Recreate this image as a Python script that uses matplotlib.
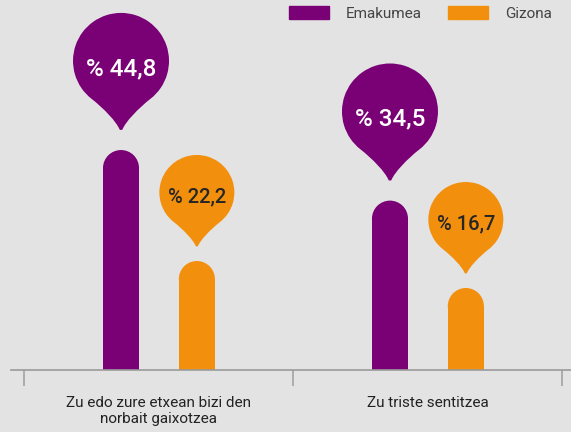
import numpy as np
import matplotlib
matplotlib.use("Agg")
import matplotlib.pyplot as plt
import matplotlib.patches as mpatches
import matplotlib.transforms as mtransforms
from matplotlib.path import Path

# data
categories = ["Zu edo zure etxean bizi den\nnorbait gaixotzea", "Zu triste sentitzea"]
series = ["Emakumea", "Gizona"]
emakumea = [44.8, 34.5]
gizona = [22.2, 16.7]

purple = "#7a0075"
orange = "#f2900e"
bg = "#e3e3e3"

plt.rcParams['font.family'] = ['Roboto', 'DejaVu Sans']

fig = plt.figure(figsize=(5.71, 4.32), dpi=100, facecolor=bg)
ax = fig.add_axes([11 / 571, 62 / 432, 560 / 571, 370 / 432])
ax.set_facecolor(bg)
ax.set_xlim(-0.550, 1.532)
ax.set_ylim(0, 370 / 4.91)

x = np.arange(len(categories))
off = 0.141
bar_w = 0.134

# pixel sizes for the rounded tops
px_x = ax.transData.transform((1, 0))[0] - ax.transData.transform((0, 0))[0]
px_y = ax.transData.transform((0, 1))[1] - ax.transData.transform((0, 0))[1]
r_px = bar_w * px_x / 2
cap_h = r_px / px_y


def balloon_path(R, k=1.44):
    # balloon centred on origin, tail tip at (0, -k*R), in pixels
    a = np.deg2rad(-52)
    ax_, ay_ = np.cos(a), np.sin(a)
    tx, ty = -ay_, ax_  # tangent going counter-clockwise
    c2 = (ax_ - 0.32 * tx, ay_ - 0.32 * ty)
    arc = Path.arc(-52, 232)
    verts = [(0.03, -k + 0.01), (0.09, -1.27), c2, (ax_, ay_)]
    codes = [Path.MOVETO, Path.CURVE4, Path.CURVE4, Path.CURVE4]
    verts += list(arc.vertices[1:])
    codes += list(arc.codes[1:])
    verts += [(-c2[0], c2[1]), (-0.09, -1.27), (-0.03, -k + 0.01),
              (0, -k - 0.01), (0.03, -k + 0.01), (0.03, -k + 0.01)]
    codes += [Path.CURVE4, Path.CURVE4, Path.CURVE4,
              Path.CURVE3, Path.CURVE3, Path.CLOSEPOLY]
    return Path(np.array(verts) * R, codes)


def fmt(v):
    return "% " + f"{v:.1f}".replace(".", ",")


groups = [
    (emakumea, -off, purple, "white", 48, 20, 14, 17.5),
    (gizona, off, orange, "#262626", 37.5, 14.5, 10, 14.5),
]

for vals, dx, col, tcol, R, gap, base_off, fs in groups:
    for xi, v in zip(x + dx, vals):
        ax.bar(xi, v - cap_h, width=bar_w, color=col, linewidth=0, zorder=2)
        ax.add_patch(mpatches.Circle((0, 0), r_px, color=col, linewidth=0, zorder=2,
                                     transform=mtransforms.ScaledTranslation(xi, v - cap_h, ax.transData)))
        center = gap + 1.44 * R
        tr = mtransforms.Affine2D().translate(0, center) + \
            mtransforms.ScaledTranslation(xi, v, ax.transData)
        ax.add_patch(mpatches.PathPatch(balloon_path(R), facecolor=col, edgecolor='none',
                                        transform=tr, clip_on=False, zorder=3))
        ax.annotate(fmt(v), xy=(xi, v), xytext=(0, center - base_off),
                    textcoords='offset pixels', ha='center', va='baseline',
                    color=tcol, fontsize=fs, fontweight='medium', zorder=4,
                    annotation_clip=False)

# axis
for s in ['top', 'right', 'left']:
    ax.spines[s].set_visible(False)
ax.spines['bottom'].set_color('#9a9a9a')
ax.spines['bottom'].set_linewidth(1.2)
ax.set_yticks([])
ax.set_xticks([-0.5, 0.5, 1.5])
ax.set_xticklabels([])
ax.tick_params(axis='x', which='major', length=11.5, width=1.3, color='#a8a8a8')
ax.set_xticks(x, minor=True)
ax.set_xticklabels(categories, minor=True, fontsize=11, color='#222222', linespacing=1.15)
ax.tick_params(axis='x', which='minor', length=0, pad=19)

handles = [mpatches.Patch(color=purple, label=series[0]),
           mpatches.Patch(color=orange, label=series[1])]
fs_px = 11 * 100 / 72
fig.legend(handles=handles, ncol=2, loc='upper right',
           bbox_to_anchor=(552 / 571, 1 - 6 / 432), frameon=False, fontsize=11,
           labelcolor='#444444', handlelength=40 / fs_px, handleheight=14 / fs_px,
           handletextpad=17 / fs_px, columnspacing=26 / fs_px,
           borderpad=0, borderaxespad=0)

fig.savefig("out.png", dpi=100, facecolor=bg)
